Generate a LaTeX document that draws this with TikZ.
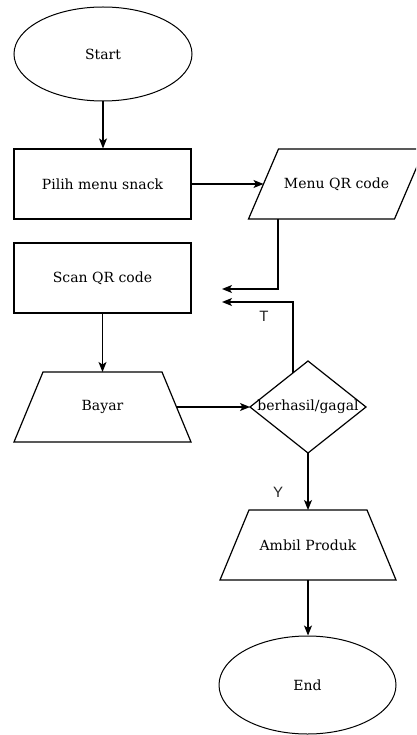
\documentclass[tikz,border=0pt]{standalone}
\usepackage{fontspec}
\setmainfont{DejaVu Serif}
\newfontfamily\lblfont{Liberation Sans}
\usetikzlibrary{shapes.geometric,arrows.meta,calc}

\begin{document}
\begin{tikzpicture}[x=1pt,y=-1pt,
  line width=1.2pt,
  font=\fontsize{14}{16}\selectfont,
  flowline/.style={draw, -{Stealth[length=10pt,width=8pt,inset=2.5pt]}},
  terminal/.style={ellipse, draw, line width=1pt, inner sep=0pt, minimum width=178pt, minimum height=94pt},
  process/.style={rectangle, draw, inner sep=0pt, minimum width=177pt, minimum height=70pt},
  shapebox/.style={rectangle, inner sep=0pt, outer sep=0pt, minimum height=70pt},
  edgelabel/.style={font=\lblfont\fontsize{15}{17}\selectfont, text=black!85}
]
\clip (0,0) rectangle (416,735);

% steps of the flow
\node[terminal] (start) at (103,54) {Start};
\node[process] (pilih) at (102.5,184) {Pilih menu snack};

\node[shapebox, minimum width=176pt] (menu) at (336.5,184) {Menu QR code};
\draw (menu.south west) -- ([xshift=-30pt]menu.south east) -- (menu.north east)
      -- ([xshift=30pt]menu.north west) -- cycle;

\node[process] (scan) at (102.5,278) {Scan QR code};

\node[shapebox, minimum width=177pt] (bayar) at (102.5,407) {Bayar};
\draw (bayar.south west) -- (bayar.south east) -- ([xshift=-29pt]bayar.north east)
      -- ([xshift=29pt]bayar.north west) -- cycle;

\node[shapebox, minimum width=116pt, minimum height=92pt] (cek) at (308,407) {berhasil/gagal};
\draw (cek.north) -- (cek.east) -- (cek.south) -- (cek.west) -- cycle;

\node[shapebox, minimum width=176pt] (ambil) at (308,545) {Ambil Produk};
\draw (ambil.south west) -- (ambil.south east) -- ([xshift=-29pt]ambil.north east)
      -- ([xshift=29pt]ambil.north west) -- cycle;

\node[terminal, minimum width=177pt, minimum height=98pt] (end) at (307.5,685) {End};

% connectors
\coordinate (backA) at (222,289);
\coordinate (backB) at (222,302);

\draw[flowline] (start.south) -- (start.south |- pilih.north);
\draw[flowline] (pilih.east) -- ([xshift=15pt]menu.west);
\draw[flowline] ([xshift=-58.5pt]menu.south) |- (backA);
\draw[flowline] (scan.south) -- (bayar.north);
\draw[flowline] ([xshift=-14.5pt]bayar.east) -- (cek.west);
\draw[flowline] ($(cek.north)!0.26!(cek.west)$) |- (backB);
\draw[flowline] (cek.south) -- (ambil.north);
\draw[flowline] (ambil.south) -- (ambil.south |- end.north);

% branch labels
\node[edgelabel] (lblT) at (264,316) {T};
\node[edgelabel] (lblY) at (278,492) {Y};
\end{tikzpicture}
\end{document}
